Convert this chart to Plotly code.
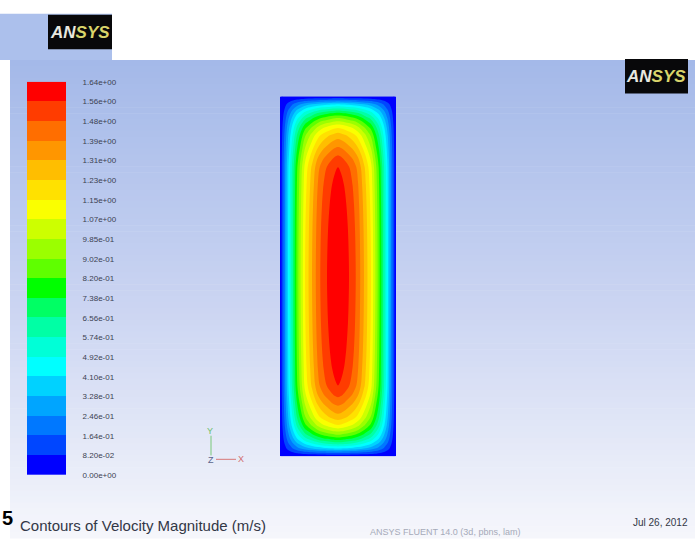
import numpy as np
import plotly.graph_objects as go

FIG_W, FIG_H = 695, 543

# ---- legend: contour levels of velocity magnitude (m/s), top to bottom ----
level_labels = [
    "1.64e+00", "1.56e+00", "1.48e+00", "1.39e+00", "1.31e+00", "1.23e+00",
    "1.15e+00", "1.07e+00", "9.85e-01", "9.02e-01", "8.20e-01", "7.38e-01",
    "6.56e-01", "5.74e-01", "4.92e-01", "4.10e-01", "3.28e-01", "2.46e-01",
    "1.64e-01", "8.20e-02", "0.00e+00",
]
U_MAX = 1.64
N_BANDS = 20

# band colours, lowest band first
band_colors = [
    "rgb(0,0,255)", "rgb(0,70,255)", "rgb(0,120,255)", "rgb(0,165,255)",
    "rgb(0,210,255)", "rgb(0,255,255)", "rgb(0,255,215)", "rgb(0,255,165)",
    "rgb(0,255,100)", "rgb(0,255,0)", "rgb(95,255,0)", "rgb(155,255,0)",
    "rgb(205,255,0)", "rgb(250,255,0)", "rgb(255,225,0)", "rgb(255,190,0)",
    "rgb(255,150,0)", "rgb(255,110,0)", "rgb(255,60,0)", "rgb(255,0,0)",
]

# ---- duct cross-section (mm) ----
duct_width = 10.0
duct_height = 31.54

# velocity profile across the width: distance from wall (mm) -> u/u_max
x_wall_dist = [0.0, 0.13, 0.26, 0.43, 0.69, 1.03, 1.47, 2.16, 2.76, 3.28,
               3.71, 4.05, 4.40, 4.74, 5.0]
x_profile = [0.0, 0.045, 0.09, 0.15, 0.25, 0.37, 0.52, 0.70, 0.80, 0.88,
             0.925, 0.95, 0.975, 0.993, 1.0]

# velocity profile along the height: distance from wall (mm) -> u/u_max
y_wall_dist = [0.0, 0.13, 0.26, 0.43, 0.69, 1.12, 1.47, 1.90, 2.33, 2.76,
               3.45, 4.57, 5.34, 6.21, 7.76, 9.48, 11.64, 13.79, 15.77]
y_profile = [0.0, 0.045, 0.09, 0.15, 0.25, 0.37, 0.46, 0.55, 0.63, 0.70,
             0.78, 0.86, 0.91, 0.95, 0.97, 0.983, 0.993, 0.998, 1.0]


def mirrored(dist, prof, span):
    """Extend a wall-to-centre profile to the full wall-to-wall span."""
    d = list(dist) + [span - v for v in reversed(dist[:-1])]
    p = list(prof) + list(reversed(prof[:-1]))
    return np.array(d), np.array(p)


xs, fx = mirrored(x_wall_dist, x_profile, duct_width)
ys, gy = mirrored(y_wall_dist, y_profile, duct_height)
speed = U_MAX * np.outer(gy, fx)

levels = np.linspace(0.0, U_MAX, N_BANDS + 1)
cs = U_MAX / N_BANDS


def contour_scale(colors):
    # filled band k is coloured at (k+1)/(n+1) of the scale
    n = len(colors)
    m = n + 1
    scale = []
    for k, c in enumerate(colors):
        lo = 0.0 if k == 0 else (k + 0.5) / m
        hi = 1.0 if k == n - 1 else (k + 1.5) / m
        scale += [[lo, c], [hi, c]]
    return scale


def step_scale(colors):
    n = len(colors)
    scale = []
    for k, c in enumerate(colors):
        scale += [[k / n, c], [(k + 1) / n, c]]
    return scale


def px(x):
    return x / FIG_W


def py(y):
    return 1 - y / FIG_H


fig = go.Figure()

fig.add_trace(go.Contour(
    x=xs, y=ys, z=speed,
    contours=dict(start=0.0, end=U_MAX, size=cs, coloring="fill", showlines=False),
    line=dict(width=0, smoothing=1),
    colorscale=contour_scale(band_colors),
    showscale=False, hoverinfo="skip",
    xaxis="x", yaxis="y",
))

# colour legend as a one-column heatmap of the bands
fig.add_trace(go.Heatmap(
    x=[0, 1], y=levels,
    z=[[(lv + lv2) / 2] for lv, lv2 in zip(levels[:-1], levels[1:])],
    zmin=0, zmax=U_MAX,
    colorscale=step_scale(band_colors),
    showscale=False, hoverinfo="skip",
    xaxis="x2", yaxis="y2",
))

# ---- background: viewer panel with vertical blue-to-white gradient ----
shapes = []
top_c = np.array([164, 185, 233])
mid_c = np.array([202, 212, 242])
bot_c = np.array([246, 247, 252])
y0, y1, ymid = 57, 543, 300
n_strips = 81
edges = np.linspace(y0, y1, n_strips + 1)
for a, b in zip(edges[:-1], edges[1:]):
    yc = (a + b) / 2
    if yc < ymid:
        t = (yc - y0) / (ymid - y0)
        c = top_c + (mid_c - top_c) * t
    else:
        t = (yc - ymid) / (y1 - ymid)
        c = mid_c + (bot_c - mid_c) * t
    shapes.append(dict(type="rect", xref="paper", yref="paper", layer="below",
                       x0=px(10), x1=1.0, y0=py(b + 0.6), y1=py(a),
                       fillcolor="rgb(%d,%d,%d)" % tuple(c.astype(int)),
                       line=dict(width=0)))

# window behind, top-left
shapes.append(dict(type="rect", xref="paper", yref="paper", layer="below",
                   x0=0, x1=px(112), y0=py(57), y1=py(10),
                   fillcolor="rgb(172,192,236)", line=dict(width=0)))

# logo boxes
for (lx0, ly0, lx1, ly1) in [(48, 11, 112, 46), (625, 56, 688, 91)]:
    shapes.append(dict(type="rect", xref="paper", yref="paper", layer="above",
                       x0=px(lx0), x1=px(lx1), y0=py(ly1), y1=py(ly0),
                       fillcolor="rgb(8,8,10)", line=dict(width=0)))

# coordinate triad
shapes.append(dict(type="line", xref="paper", yref="paper",
                   x0=px(211), x1=px(211), y0=py(459), y1=py(439),
                   line=dict(color="rgb(120,200,120)", width=1)))
shapes.append(dict(type="line", xref="paper", yref="paper",
                   x0=px(216), x1=px(236), y0=py(463), y1=py(463),
                   line=dict(color="rgb(215,120,120)", width=1)))

annotations = []
logo_text = ("<b><i><span style='color:#e8e8e0'>AN</span>"
             "<span style='color:#d9d46a'>SYS</span></i></b>")
for cx, cy in [(80, 29), (656, 74)]:
    annotations.append(dict(xref="paper", yref="paper", x=px(cx), y=py(cy),
                            text=logo_text, showarrow=False,
                            xanchor="center", yanchor="middle",
                            font=dict(family="Arial, Liberation Sans, sans-serif",
                                      size=17)))

annotations += [
    dict(xref="paper", yref="paper", x=px(210), y=py(434), text="Y",
         showarrow=False, xanchor="center", yanchor="middle",
         font=dict(family="Arial, Liberation Sans, sans-serif", size=9, color="rgb(110,190,110)")),
    dict(xref="paper", yref="paper", x=px(211), y=py(464), text="Z",
         showarrow=False, xanchor="center", yanchor="middle",
         font=dict(family="Arial, Liberation Sans, sans-serif", size=9, color="rgb(90,100,140)")),
    dict(xref="paper", yref="paper", x=px(241), y=py(463), text="X",
         showarrow=False, xanchor="center", yanchor="middle",
         font=dict(family="Arial, Liberation Sans, sans-serif", size=9, color="rgb(210,110,110)")),
    dict(xref="paper", yref="paper", x=px(18), y=py(530),
         text="Contours of Velocity Magnitude (m/s)",
         showarrow=False, xanchor="left", yanchor="middle",
         font=dict(family="Arial, Liberation Sans, sans-serif", size=15, color="rgb(50,55,70)")),
    dict(xref="paper", yref="paper", x=px(690), y=py(527),
         text="Jul 26, 2012",
         showarrow=False, xanchor="right", yanchor="middle",
         font=dict(family="Arial, Liberation Sans, sans-serif", size=10, color="rgb(50,55,70)")),
    dict(xref="paper", yref="paper", x=px(445), y=py(537),
         text="ANSYS FLUENT 14.0 (3d, pbns, lam)",
         showarrow=False, xanchor="center", yanchor="middle",
         font=dict(family="Arial, Liberation Sans, sans-serif", size=9, color="rgb(165,170,185)")),
    dict(xref="paper", yref="paper", x=px(0), y=py(523),
         text="<b>5</b>",
         showarrow=False, xanchor="left", yanchor="middle",
         font=dict(family="Arial, Liberation Sans, sans-serif", size=20, color="black")),
]

fig.update_layout(
    width=FIG_W, height=FIG_H,
    margin=dict(l=0, r=0, t=0, b=0),
    paper_bgcolor="white", plot_bgcolor="rgba(0,0,0,0)",
    showlegend=False,
    xaxis=dict(domain=[px(280), px(396)], range=[0, duct_width],
               visible=False, fixedrange=True),
    yaxis=dict(domain=[py(460), py(94)], range=[0, duct_height],
               visible=False, fixedrange=True),
    xaxis2=dict(domain=[px(27), px(66)], range=[0, 1], visible=False,
                anchor="y2", fixedrange=True),
    yaxis2=dict(domain=[py(479), py(79)], range=[0, U_MAX], anchor="x2",
                side="right", showgrid=False, zeroline=False, showline=False,
                tickmode="array", tickvals=levels,
                ticktext=list(reversed(level_labels)),
                ticks="outside", ticklen=14, tickcolor="rgba(0,0,0,0)",
                tickfont=dict(family="Arial, Liberation Sans, sans-serif",
                              size=8, color="rgb(60,66,82)"),
                fixedrange=True),
    shapes=shapes,
    annotations=annotations,
)

fig.write_html("out.html")
